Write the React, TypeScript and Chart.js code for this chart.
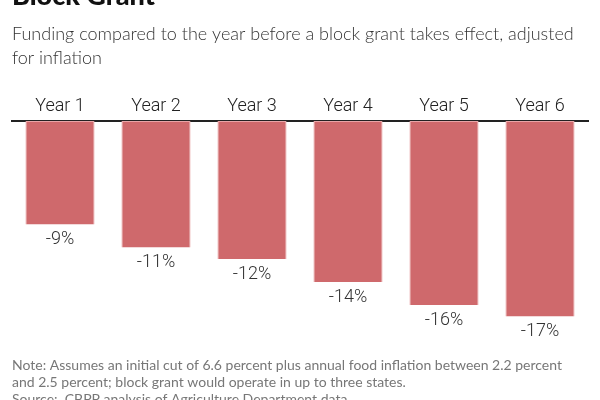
import React, { useEffect, useRef } from "react";
import { Chart, registerables } from "chart.js";

Chart.register(...registerables);

const titleText = "Block Grant";
const subtitleLines = [
  "Funding compared to the year before a block grant takes effect, adjusted",
  "for inflation",
];
const noteLines = [
  "Note: Assumes an initial cut of 6.6 percent plus annual food inflation between 2.2 percent",
  "and 2.5 percent; block grant would operate in up to three states.",
];
const sourceText = "Source:  CBPP analysis of Agriculture Department data";

const categories = ["Year 1", "Year 2", "Year 3", "Year 4", "Year 5", "Year 6"];
const changePct = [-9, -11, -12, -14, -16, -17];
const valueLabels = ["-9%", "-11%", "-12%", "-14%", "-16%", "-17%"];

const NARROW = "Roboto, sans-serif";
const SANS = "Lato, 'Open Sans', sans-serif";

const textPlugin = {
  id: "textPlugin",
  afterDraw(chart: any) {
    const ctx = chart.ctx;
    ctx.save();
    ctx.textBaseline = "alphabetic";
    ctx.textAlign = "left";
    ctx.fillStyle = "#111";
    ctx.font = `900 27px ${SANS}`;
    ctx.fillText(titleText, 12, 5);

    ctx.fillStyle = "#333";
    ctx.font = `300 18px ${SANS}`;
    subtitleLines.forEach((l, i) => ctx.fillText(l, 12, 40 + i * 24));

    ctx.fillStyle = "#777";
    ctx.font = `14px ${SANS}`;
    noteLines.forEach((l, i) => ctx.fillText(l, 12, 370 + i * 17));
    ctx.fillText(sourceText, 12, 404);

    // value labels under bars
    const meta = chart.getDatasetMeta(0);
    ctx.fillStyle = "#333";
    ctx.font = `300 18px ${NARROW}`;
    ctx.textAlign = "center";
    ctx.textBaseline = "top";
    meta.data.forEach((bar: any, i: number) => {
      ctx.fillText(valueLabels[i], bar.x, bar.y + 6);
    });
    ctx.restore();
  },
};

export default function App() {
  const ref = useRef<HTMLCanvasElement | null>(null);
  useEffect(() => {
    document.body.style.margin = "0";
    const chart = new Chart(ref.current!, {
      type: "bar",
      data: {
        labels: categories,
        datasets: [
          {
            data: changePct,
            backgroundColor: "#cf696c",
            borderColor: "#e9a4a6",
            borderWidth: 1,
            borderSkipped: "top",
            categoryPercentage: 1,
            barPercentage: 0.72,
          },
        ],
      },
      options: {
        animation: false,
        responsive: false,
        maintainAspectRatio: false,
        layout: { padding: { top: 81, bottom: 49, left: 12, right: 12 } },
        plugins: {
          legend: { display: false },
          tooltip: { enabled: false },
          title: { display: false },
        },
        scales: {
          x: {
            position: "top",
            grid: { display: false, drawTicks: false, tickLength: 0 },
            border: { display: true, color: "#222", width: 2 },
            ticks: {
              color: "#222",
              font: { family: NARROW, size: 18, weight: "300" },
              padding: 4,
            },
            afterFit(scale: any) {
              scale.height = 40;
            },
          },
          y: {
            display: false,
            min: -20,
            max: 0,
          },
        },
      },
      plugins: [textPlugin],
    });
    return () => chart.destroy();
  }, []);
  return (
    <div style={{ position: "relative", width: 600, height: 400, overflow: "hidden", background: "#fff" }}>
      <canvas ref={ref} width={600} height={400} style={{ display: "block", width: 600, height: 400 }} />
    </div>
  );
}
